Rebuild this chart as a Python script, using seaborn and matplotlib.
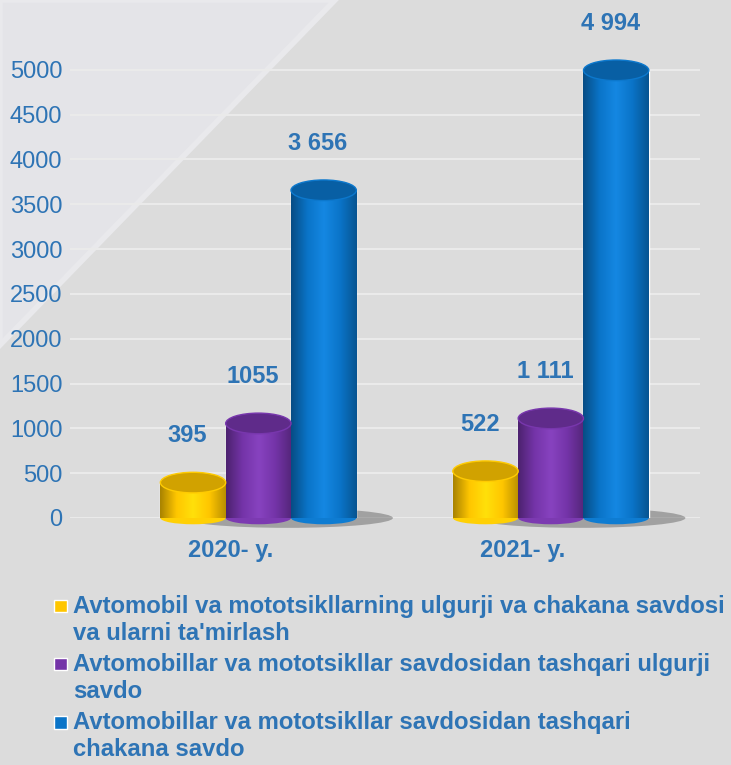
import numpy as np
import pandas as pd
import matplotlib
matplotlib.use("Agg")
import matplotlib.pyplot as plt
import seaborn as sns
from matplotlib.patches import Ellipse, Polygon, Rectangle
from matplotlib.colors import LinearSegmentedColormap, to_rgb
from matplotlib.transforms import ScaledTranslation
from matplotlib.legend_handler import HandlerPatch

# data
years = ["2020- y.", "2021- y."]
series = ["Avtomobil va mototsikllarning ulgurji va chakana savdosi\nva ularni ta'mirlash",
          "Avtomobillar va mototsikllar savdosidan tashqari ulgurji\nsavdo",
          "Avtomobillar va mototsikllar savdosidan tashqari\nchakana savdo"]
yellow_vals = [395, 522]
purple_vals = [1055, 1111]
blue_vals = [3656, 4994]
yellow_labels = ["395", "522"]
purple_labels = ["1055", "1 111"]
blue_labels = ["3 656", "4 994"]
colors = ["#FFC600", "#7434A8", "#0A74C8"]
y_ticks = list(range(0, 5001, 500))

txt_blue = "#2E74B5"
fs = 17

rows = []
for s, vals in zip(series, [yellow_vals, purple_vals, blue_vals]):
    for yr, v in zip(years, vals):
        rows.append({"year": yr, "value": v, "series": s})
df = pd.DataFrame(rows)

sns.set_style("white")
plt.rcParams['font.family'] = ['Liberation Sans', 'DejaVu Sans']

fig = plt.figure(figsize=(7.31, 7.65), dpi=100)
fig.patch.set_facecolor("#dcdcdc")
# lighter diagonal area top-left
fig.patches.append(Polygon([(0, 1), (335/731, 1), (0, 1-345/765)], closed=True,
                           transform=fig.transFigure, facecolor="#e4e4e8",
                           edgecolor="#e9e9ec", lw=4, zorder=0))

ax = fig.add_axes([70/731, (765-518)/765, 630/731, 502/765])
ax.set_zorder(2)
ax.set_facecolor("none")

sns.barplot(data=df, x="year", y="value", hue="series", palette=colors,
            width=0.67, gap=0, dodge=True, legend=False, ax=ax, zorder=3,
            saturation=1)

ell_h = 230  # height of cylinder caps in data units
all_labels = [yellow_labels, purple_labels, blue_labels]
for i, cont in enumerate(ax.containers):
    base = np.array(to_rgb(colors[i]))
    dark = base * 0.66
    light = np.clip(base * 1.08 + 0.04, 0, 1)
    cmap = LinearSegmentedColormap.from_list("cyl", [dark, base, light, base, dark * 1.1])
    for bar, lab in zip(cont.patches, all_labels[i]):
        x0 = bar.get_x()
        w = bar.get_width()
        h = bar.get_height()
        cx = x0 + w / 2
        # bottom rounded edge
        ax.add_patch(Ellipse((cx, 0), w, 140, facecolor=cmap(0.35), edgecolor="none",
                             zorder=2.9, clip_on=False))
        grad = np.linspace(0, 1, 200)[None, :]
        im = ax.imshow(grad, extent=(x0, x0 + w, 0, h), cmap=cmap, aspect="auto",
                       zorder=3.1, interpolation="bicubic")
        im.set_clip_path(bar)
        ax.add_patch(Ellipse((cx, h), w, ell_h, facecolor=base * 0.82, edgecolor=cmap(0.3),
                             lw=1, zorder=3.3, clip_on=False))
        ax.text(cx - 0.02, h + ell_h / 2 + 280, lab, ha="center", va="bottom",
                fontsize=fs, fontweight="bold", color=txt_blue, zorder=4)

# shadows under each group
for k in range(len(years)):
    ax.add_patch(Ellipse((k + 0.1, 0), 0.72, 220, facecolor="#4a4a4a", alpha=0.4,
                         edgecolor="none", zorder=1, clip_on=False))

ax.set_xlim(-0.644, 1.51)
ax.set_ylim(0, 5600)
ax.set_yticks(y_ticks)
ax.grid(axis="y", color="#eaeaea", lw=1.5, zorder=0)
ax.grid(axis="x", visible=False)
sns.despine(ax=ax, left=True, bottom=True)
ax.set_xlabel("")
ax.set_ylabel("")
ax.tick_params(axis="y", length=0, pad=5.5, labelsize=fs, labelcolor=txt_blue)
ax.tick_params(axis="x", length=0, pad=15, labelsize=fs, labelcolor=txt_blue)
for t in ax.get_xticklabels():
    t.set_fontweight("bold")
    t.set_transform(t.get_transform() + ScaledTranslation(-0.28, 0, fig.dpi_scale_trans))


# small square sitting at the bottom of the handle box
def square(legend, orig_handle, xdescent, ydescent, width, height, fontsize):
    return Rectangle((-xdescent, -ydescent), width, width)


handles = [cont.patches[0] for cont in ax.containers]
leg = fig.legend(handles, series, loc="upper left", bbox_to_anchor=(54/731, 1-595/765),
                 frameon=False, handlelength=0.53, handleheight=0.74, handletextpad=0.26,
                 labelspacing=0.34, prop={"size": 17.2, "weight": "bold"}, labelcolor=txt_blue,
                 borderaxespad=0, borderpad=0,
                 handler_map={Rectangle: HandlerPatch(patch_func=square)})
for t in leg.get_texts():
    t.set_linespacing(1.22)
# put the square next to the first line of each entry
for col in leg._legend_handle_box.get_children():
    for row in col.get_children():
        row.align = "top"

fig.savefig("out.png", dpi=100, facecolor=fig.get_facecolor())
